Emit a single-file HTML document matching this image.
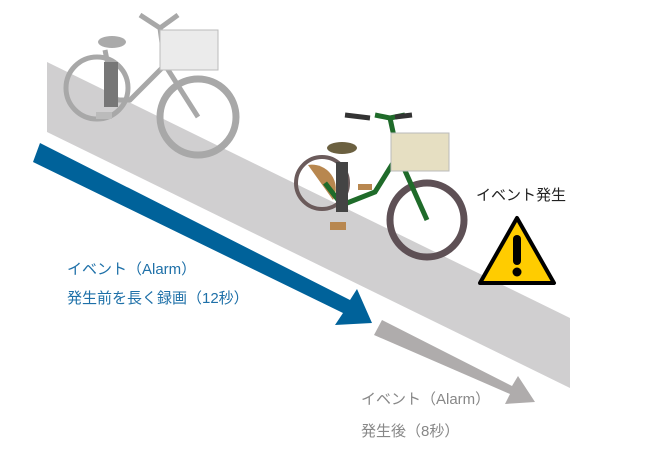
<!DOCTYPE html>
<html><head><meta charset="utf-8"><style>
body{margin:0;background:#fff;width:650px;height:450px;overflow:hidden;font-family:"Liberation Sans","Noto Sans CJK JP",sans-serif}
</style></head><body>
<svg width="650" height="450" viewBox="0 0 650 450" xmlns="http://www.w3.org/2000/svg">
<polygon points="47,62 570,318 570,388 47,132" fill="#d0cfd0"/>
<!-- blue arrow -->
<polygon points="33,162 40,143 350,300 357,289 372,323 335,325 343,313" fill="#00629a"/>
<!-- gray arrow -->
<polygon points="374,335 382,320 512,386 518,376 535,402 505,404 510,394" fill="#afacac"/>
<!-- gray bike -->
<g fill="none" stroke="#a8a8a8">
<circle cx="97" cy="88" r="31" stroke-width="5"/>
<circle cx="198" cy="117" r="38" stroke-width="7"/>
<path d="M115,100 L130,100 L165,65 L198,117 M115,100 L105,50 M165,65 L160,28 L140,15 M160,28 L178,15" stroke-width="5"/>
</g>
<rect x="160" y="30" width="58" height="40" fill="#ebebeb" stroke="#bbb"/>
<ellipse cx="112" cy="42" rx="14" ry="6" fill="#aaa"/>
<rect x="104" y="62" width="14" height="45" fill="#777"/>
<rect x="96" y="112" width="16" height="7" fill="#bbb"/>
<!-- green bike -->
<g fill="none">
<circle cx="322" cy="183" r="26" stroke="#6b5b5b" stroke-width="4"/>
<path d="M308,165 A24,24 0 0 1 333,200 Z" fill="#b8874f"/>
<circle cx="427" cy="220" r="37" stroke="#5e5055" stroke-width="7"/>
<path d="M342,205 L375,192 L398,155 L427,220 M342,205 L325,183 M398,155 L390,118 L375,115 M390,118 L405,115" stroke="#1f6b2a" stroke-width="5"/>
</g>
<rect x="391" y="133" width="58" height="38" fill="#e6dfc2" stroke="#bbb"/>
<ellipse cx="342" cy="148" rx="15" ry="6" fill="#6b6040"/>
<rect x="336" y="162" width="12" height="50" fill="#444"/>
<rect x="330" y="222" width="16" height="8" fill="#b8874f"/>
<rect x="358" y="184" width="14" height="6" fill="#b8874f"/>
<path d="M345,115 L370,118 M395,117 L412,115" stroke="#333" stroke-width="5"/>
<!-- warning -->
<polygon points="517,218 554,283 480,283" fill="#ffcc00" stroke="#000" stroke-width="4" stroke-linejoin="round"/>
<rect x="513" y="235" width="8" height="30" rx="4" fill="#000"/>
<circle cx="517" cy="272" r="4.5" fill="#000"/>
<text x="476" y="200" font-size="15" fill="#222" font-family="Liberation Sans, Noto Sans CJK JP, sans-serif">イベント発生</text>
<text x="67" y="274" font-size="15" fill="#1e70a8" font-family="Liberation Sans, Noto Sans CJK JP, sans-serif">イベント（Alarm）</text>
<text x="67" y="303" font-size="15" fill="#1e70a8" font-family="Liberation Sans, Noto Sans CJK JP, sans-serif">発生前を長く録画（12秒）</text>
<text x="361" y="404" font-size="15" fill="#888" font-family="Liberation Sans, Noto Sans CJK JP, sans-serif">イベント（Alarm）</text>
<text x="361" y="436" font-size="15" fill="#888" font-family="Liberation Sans, Noto Sans CJK JP, sans-serif">発生後（8秒）</text>
</svg>
</body></html>
